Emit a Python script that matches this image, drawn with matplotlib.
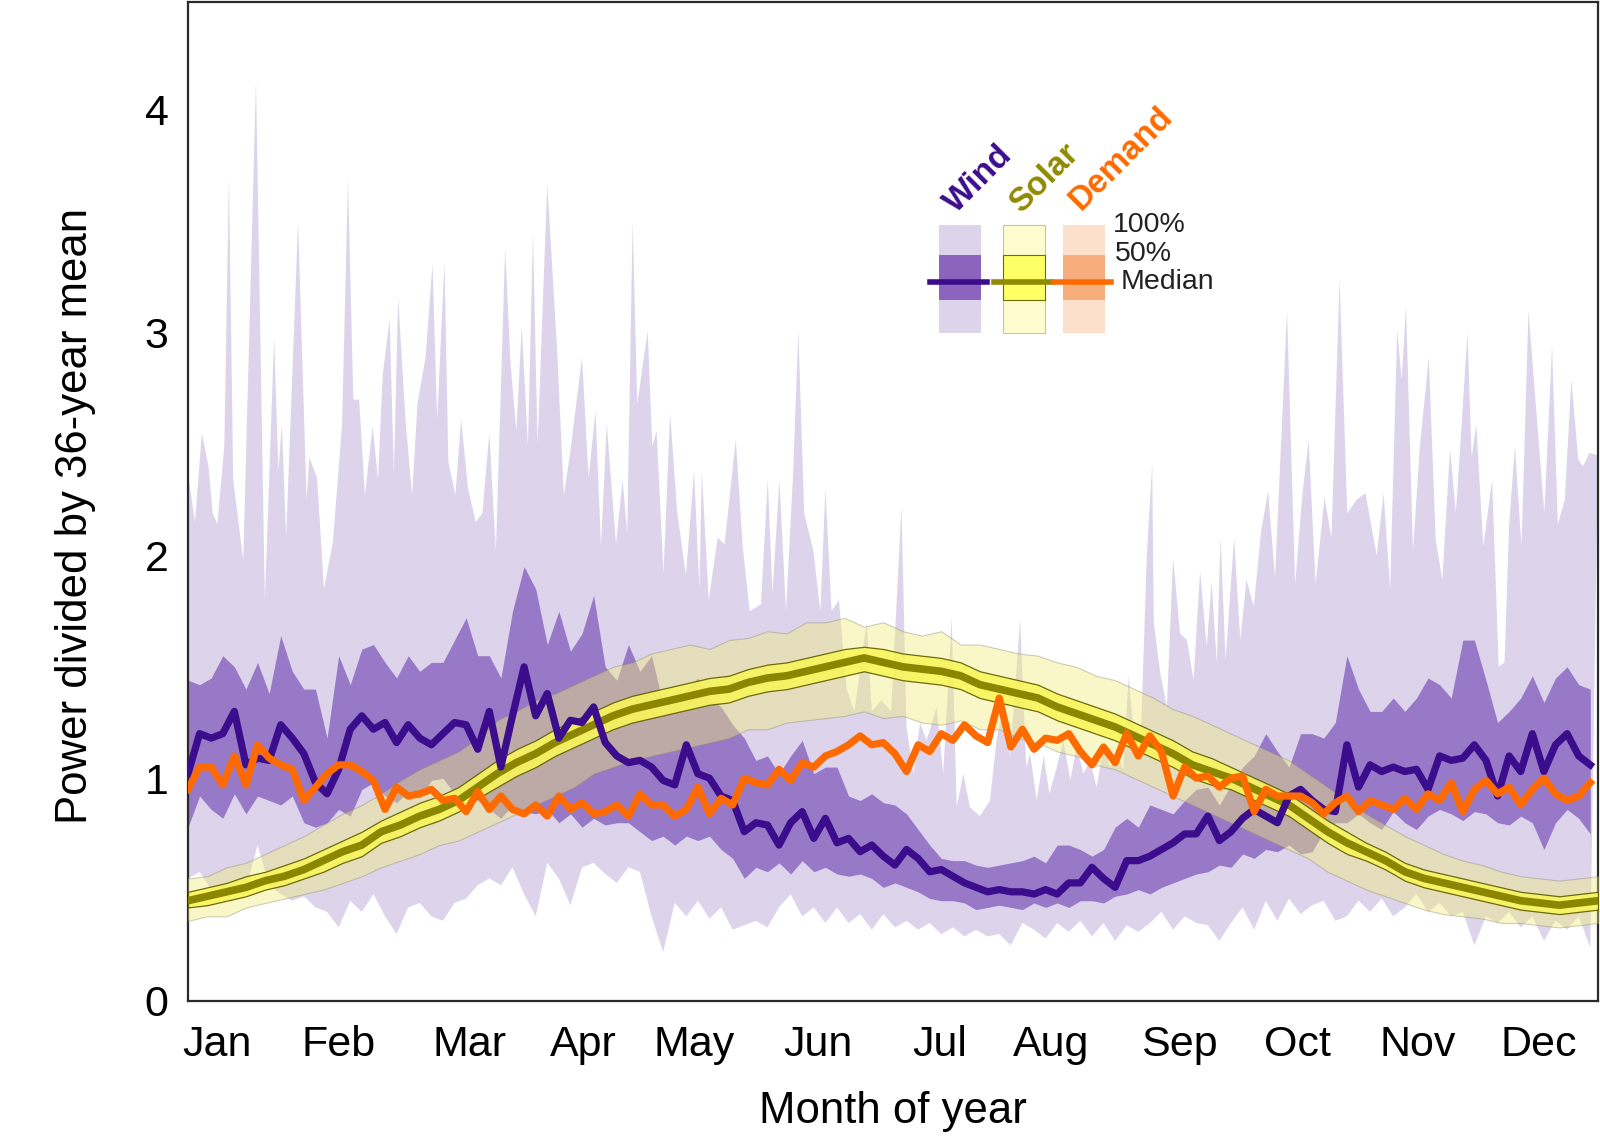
import numpy as np
import matplotlib
matplotlib.use('Agg')
import matplotlib.pyplot as plt
from matplotlib.patches import Rectangle
from matplotlib.lines import Line2D

plt.rcParams['font.family'] = ['Liberation Sans', 'DejaVu Sans']

##Month labels and where they sit (day of year)
month_labels = ['Jan', 'Feb', 'Mar', 'Apr', 'May', 'Jun', 'Jul', 'Aug', 'Sep', 'Oct', 'Nov', 'Dec']
month_ticks = [7.5, 39, 72.8, 102.4, 131, 163, 194.6, 223.4, 256.5, 287.3, 318.4, 349.7]

##Wind and demand are read every 3 days
grid_days = np.arange(0, 364, 3)

wind_median = [1.02, 1.20, 1.18, 1.20, 1.30, 1.06, 1.09, 1.08, 1.24, 1.18, 1.11, 0.98, 0.93, 1.04, 1.22, 1.28,
               1.22, 1.25, 1.16, 1.24, 1.18, 1.15, 1.20, 1.25, 1.24, 1.13,
               1.30, 1.05, 1.28, 1.50, 1.28, 1.38, 1.18, 1.26, 1.25, 1.32, 1.16, 1.10, 1.07, 1.08, 1.05, 0.99,
               0.97, 1.15, 1.02, 1.00, 0.92, 0.90, 0.76,
               0.80, 0.79, 0.70, 0.80, 0.85, 0.73, 0.82, 0.71, 0.73, 0.67, 0.70, 0.65, 0.61, 0.68, 0.64, 0.58,
               0.59, 0.56, 0.53, 0.51, 0.49, 0.50, 0.49, 0.49, 0.48,
               0.50, 0.48, 0.53, 0.53, 0.60, 0.55, 0.51, 0.63, 0.63, 0.65, 0.68, 0.71, 0.75, 0.75, 0.83, 0.72,
               0.76, 0.82, 0.86, 0.83, 0.80, 0.92, 0.95, 0.90,
               0.86, 0.85, 1.15, 0.96, 1.06, 1.03, 1.05, 1.03, 1.04, 0.95, 1.10, 1.08, 1.09, 1.15, 1.08, 0.92,
               1.10, 1.03, 1.20, 1.03, 1.15, 1.20, 1.10, 1.06]

wind_q75 = [1.44, 1.42, 1.45, 1.55, 1.50, 1.40, 1.52, 1.38, 1.64, 1.48, 1.40, 1.40, 1.18, 1.55, 1.42, 1.58,
            1.60, 1.52, 1.45, 1.55, 1.48, 1.52, 1.52, 1.62, 1.72, 1.55,
            1.55, 1.45, 1.75, 1.95, 1.85, 1.60, 1.75, 1.57, 1.65, 1.82, 1.50, 1.44, 1.60, 1.48, 1.55, 1.33,
            1.35, 1.40, 1.45, 1.36, 1.32, 1.24, 1.18,
            1.08, 1.10, 1.02, 1.10, 1.17, 1.02, 1.05, 1.05, 0.92, 0.90, 0.93, 0.89, 0.88, 0.84, 0.77, 0.70,
            0.64, 0.63, 0.63, 0.61, 0.60, 0.61, 0.62, 0.63, 0.65,
            0.62, 0.70, 0.70, 0.68, 0.65, 0.68, 0.78, 0.82, 0.78, 0.88, 0.86, 0.84, 0.90, 0.95, 0.96, 0.88,
            0.97, 1.05, 1.10, 1.20, 1.12, 1.05, 1.20, 1.20,
            1.18, 1.25, 1.55, 1.40, 1.30, 1.30, 1.36, 1.30, 1.36, 1.45, 1.42, 1.36, 1.62, 1.62, 1.44, 1.25,
            1.30, 1.36, 1.46, 1.34, 1.45, 1.50, 1.42, 1.40]

wind_q25 = [0.78, 0.92, 0.86, 0.82, 0.93, 0.84, 0.92, 0.90, 0.88, 0.92, 0.80, 0.78, 0.80, 0.86, 0.83, 0.95,
            0.98, 0.92, 0.89, 0.94, 0.91, 0.99, 1.00, 0.93, 0.93, 0.90,
            0.86, 0.82, 0.88, 0.85, 0.84, 0.86, 0.80, 0.84, 0.78, 0.82, 0.79, 0.80, 0.80, 0.76, 0.72, 0.74,
            0.70, 0.74, 0.72, 0.74, 0.68, 0.64, 0.55,
            0.60, 0.58, 0.62, 0.57, 0.63, 0.58, 0.60, 0.57, 0.56, 0.57, 0.55, 0.51, 0.53, 0.51, 0.49, 0.46,
            0.45, 0.45, 0.44, 0.41, 0.42, 0.43, 0.42, 0.41, 0.44,
            0.42, 0.44, 0.42, 0.45, 0.45, 0.44, 0.47, 0.48, 0.50, 0.48, 0.51, 0.53, 0.55, 0.57, 0.58, 0.61,
            0.60, 0.66, 0.64, 0.68, 0.67, 0.70, 0.66, 0.67,
            0.76, 0.80, 0.80, 0.84, 0.80, 0.77, 0.85, 0.80, 0.77, 0.83, 0.86, 0.84, 0.81, 0.85, 0.84, 0.80,
            0.79, 0.83, 0.80, 0.68, 0.80, 0.86, 0.82, 0.75]

wind_min = [0.55, 0.58, 0.50, 0.48, 0.52, 0.50, 0.70, 0.52, 0.48, 0.45, 0.47, 0.42, 0.40, 0.33, 0.45, 0.40,
            0.48, 0.38, 0.30, 0.42, 0.44, 0.38, 0.36, 0.44, 0.46, 0.52,
            0.55, 0.52, 0.60, 0.48, 0.38, 0.62, 0.55, 0.43, 0.60, 0.62, 0.57, 0.53, 0.60, 0.58, 0.38, 0.22,
            0.44, 0.38, 0.45, 0.37, 0.42, 0.32, 0.34,
            0.36, 0.33, 0.42, 0.48, 0.38, 0.42, 0.35, 0.42, 0.35, 0.39, 0.32, 0.39, 0.33, 0.36, 0.32, 0.35,
            0.30, 0.33, 0.29, 0.32, 0.29, 0.30, 0.25, 0.35, 0.32,
            0.28, 0.35, 0.31, 0.36, 0.29, 0.35, 0.27, 0.34, 0.31, 0.35, 0.40, 0.32, 0.38, 0.35, 0.34, 0.27,
            0.35, 0.42, 0.32, 0.45, 0.36, 0.46, 0.39, 0.43,
            0.45, 0.36, 0.38, 0.45, 0.40, 0.46, 0.38, 0.42, 0.48, 0.40, 0.44, 0.38, 0.40, 0.25, 0.38, 0.35,
            0.40, 0.33, 0.38, 0.27, 0.36, 0.32, 0.38, 0.24]

##The wind maximum is very spiky, so it is kept as its own list of (day, value) readings
wind_max_days = [0, 1.8, 3.6, 5.3, 6.4, 7.6, 9.4, 10.6, 11.7, 14.3, 17.6, 19.9, 22.3, 23.4, 24.3, 25.4,
                 28.5, 30.7, 31.4, 33.4, 35.2, 37.5, 39.9, 41.4, 42.8, 44.3, 45.8, 47.8, 49.2, 50.4, 52.2,
                 53.3, 54.4, 56.3, 58.0, 59.4, 61.5, 63.3, 64.5, 66.4, 67.4, 69.2, 70.7, 72.5, 74.5, 76.2,
                 78.0, 79.7, 82.1, 83.5, 85.0, 86.4, 88.0, 89.3, 90.5, 93.0, 95.5, 97.3, 99.0, 102.0, 103.7,
                 105.5, 106.9, 108.4, 110.8, 112.5, 113.7, 115.1, 116.3, 119.0, 120.2, 121.3, 123.1, 124.8,
                 126.6, 128.9, 131.0, 132.4, 133.0, 134.8, 137.1, 138.9, 141.8, 143.6, 145.4, 148.3, 150.1,
                 151.3, 153.1, 154.8, 156.6, 158.0, 159.5, 161.9, 163.7, 165.0, 166.6, 168.5, 170.5, 172.5,
                 175.7, 177.0, 179.5, 182.0, 184.7, 186.0, 187.8, 189.5, 191.2, 193.8, 195.5, 197.7, 199.0,
                 200.7, 202.4, 205.0, 207.6, 209.3, 211.0, 212.8, 215.4, 217.0, 218.0, 219.7, 221.5, 223.0,
                 224.9, 226.6, 228.4, 230.0, 231.8, 233.5, 235.2, 237.0, 238.7, 240.4, 242.1, 243.5, 244.7,
                 246.5, 248.2, 249.6, 250.0, 251.7, 253.4, 255.0, 256.8, 258.6, 260.3, 262.0, 263.7, 265.0,
                 266.3, 267.3, 268.6, 270.8, 272.4, 274.0, 275.9, 277.8, 279.6, 281.4, 284.5, 286.6, 288.4,
                 290.1, 291.9, 294.2, 296.0, 298.1, 300.1, 302.5, 304.8, 307.7, 309.5, 311.2, 313.0, 314.2,
                 315.3, 317.1, 318.9, 321.2, 323.0, 324.7, 326.7, 328.2, 329.7, 331.2, 332.3, 333.5, 335.3,
                 337.6, 339.3, 340.8, 342.0, 343.5, 345.2, 347.0, 349.3, 351.1, 353.1, 354.6, 356.4, 358.1,
                 359.9, 361.1, 362.8, 365.0]
wind_max_vals = [2.37, 2.15, 2.55, 2.40, 2.19, 2.14, 2.49, 3.70, 2.34, 1.98, 4.13, 1.80, 2.98, 2.38, 2.59, 2.08,
                 3.50, 2.25, 2.44, 2.35, 1.85, 2.06, 2.59, 3.69, 2.70, 2.70, 2.27, 2.58, 2.34, 2.81, 3.06,
                 2.37, 3.16, 2.61, 2.27, 2.68, 2.89, 3.31, 2.61, 3.32, 2.42, 2.27, 2.61, 2.30, 2.15, 2.19,
                 2.55, 2.02, 3.38, 2.86, 2.56, 3.03, 2.49, 3.45, 2.50, 3.67, 2.94, 2.27, 2.47, 2.89, 2.35,
                 2.65, 2.04, 2.59, 2.05, 2.34, 2.10, 3.50, 2.68, 3.01, 2.49, 2.56, 1.92, 2.64,
                 2.20, 1.91, 2.38, 1.85, 2.38, 1.80, 2.08, 2.05, 2.52, 2.04, 1.75, 1.78, 2.34,
                 1.83, 2.34, 1.75, 2.35, 3.01, 2.19, 2.02, 1.75, 2.30, 1.75, 1.80, 1.40, 1.30,
                 1.70, 1.30, 1.35, 1.30, 2.22, 1.23, 1.02, 1.25, 1.17, 1.32, 1.02, 1.72, 0.87,
                 1.02, 0.87, 0.83, 0.90, 1.17, 1.32, 1.10, 1.71, 1.05, 1.11, 0.90, 1.10, 0.93,
                 1.05, 1.17, 0.99, 1.14, 1.02, 1.08, 0.96, 1.14, 1.05, 1.11, 1.04, 1.46, 1.23,
                 1.11, 2.00, 2.41, 1.70, 1.47, 1.32, 1.99, 1.65, 1.62, 1.44, 1.93, 1.59, 1.88,
                 1.52, 2.08, 1.53, 2.08, 1.62, 1.89, 1.77, 2.11, 2.29, 1.90, 3.10, 1.87, 2.26,
                 2.52, 1.87, 2.26, 2.08, 3.24, 2.19, 2.25, 2.28, 2.00, 2.28, 1.85, 3.01, 2.79,
                 3.12, 2.02, 2.49, 2.89, 2.07, 1.89, 2.48, 2.19, 2.59, 3.00, 2.44, 2.59, 2.04,
                 2.34, 1.50, 1.52, 2.14, 2.49, 2.04, 3.10, 2.59, 2.19, 2.94, 2.14, 2.25, 2.79,
                 2.43, 2.40, 2.46, 2.45]

demand_median = [0.95, 1.05, 1.05, 0.97, 1.10, 0.97, 1.15, 1.09, 1.06, 1.04, 0.90, 0.96, 1.02, 1.06, 1.06, 1.03,
                 0.99, 0.86, 0.96, 0.92, 0.93, 0.95, 0.90, 0.91, 0.85, 0.94,
                 0.86, 0.92, 0.86, 0.84, 0.88, 0.83, 0.92, 0.86, 0.89, 0.84, 0.85, 0.88, 0.83, 0.93, 0.88, 0.88,
                 0.83, 0.86, 0.96, 0.84, 0.91, 0.88, 1.00,
                 0.98, 0.97, 1.04, 0.99, 1.07, 1.05, 1.10, 1.12, 1.15, 1.19, 1.15, 1.16, 1.11, 1.03, 1.15, 1.12,
                 1.20, 1.17, 1.24, 1.19, 1.16, 1.36, 1.14, 1.22, 1.13,
                 1.18, 1.17, 1.20, 1.12, 1.06, 1.14, 1.07, 1.20, 1.10, 1.19, 1.12, 0.92, 1.05, 1.00, 1.01, 0.96,
                 1.00, 1.01, 0.85, 0.95, 0.92, 0.92, 0.92, 0.89,
                 0.84, 0.89, 0.92, 0.85, 0.90, 0.88, 0.86, 0.91, 0.86, 0.93, 0.90, 0.98, 0.85, 0.95, 0.99, 0.93,
                 0.96, 0.88, 0.95, 1.00, 0.93, 0.90, 0.92, 0.98]

##Solar is smooth, read every 5 days
solar_days = np.arange(0, 366, 5)
solar_median = [0.45, 0.47, 0.49, 0.51, 0.54, 0.56, 0.59, 0.63, 0.67, 0.70,
                0.76, 0.79, 0.83, 0.86, 0.90, 0.96, 1.02, 1.07, 1.11, 1.16,
                1.20, 1.24, 1.28, 1.31, 1.33, 1.35, 1.37, 1.39, 1.40, 1.43,
                1.45, 1.46, 1.48, 1.50, 1.52, 1.54, 1.52, 1.50, 1.49, 1.48,
                1.46, 1.42, 1.40, 1.38, 1.36, 1.32, 1.29, 1.26, 1.23, 1.19,
                1.15, 1.11, 1.06, 1.03, 1.00, 0.96, 0.92, 0.88, 0.82, 0.76,
                0.71, 0.67, 0.63, 0.58, 0.55, 0.53, 0.51, 0.49, 0.47, 0.45,
                0.44, 0.43, 0.44, 0.45]
solar_q75 = [0.49, 0.51, 0.53, 0.56, 0.58, 0.61, 0.64, 0.68, 0.72, 0.76,
             0.81, 0.85, 0.89, 0.92, 0.96, 1.02, 1.08, 1.13, 1.17, 1.22,
             1.26, 1.30, 1.34, 1.37, 1.39, 1.41, 1.43, 1.45, 1.46, 1.49,
             1.51, 1.52, 1.54, 1.56, 1.58, 1.59, 1.58, 1.56, 1.55, 1.54,
             1.52, 1.48, 1.46, 1.44, 1.42, 1.38, 1.35, 1.32, 1.29, 1.25,
             1.21, 1.17, 1.12, 1.09, 1.05, 1.01, 0.97, 0.93, 0.87, 0.81,
             0.76, 0.71, 0.67, 0.62, 0.59, 0.57, 0.55, 0.53, 0.51, 0.49,
             0.48, 0.47, 0.48, 0.49]
solar_q25 = [0.42, 0.43, 0.45, 0.47, 0.50, 0.52, 0.55, 0.58, 0.62, 0.65,
             0.71, 0.74, 0.78, 0.81, 0.85, 0.91, 0.96, 1.01, 1.05, 1.10,
             1.14, 1.18, 1.22, 1.25, 1.27, 1.29, 1.31, 1.33, 1.34, 1.37,
             1.39, 1.40, 1.42, 1.44, 1.46, 1.48, 1.46, 1.44, 1.43, 1.42,
             1.40, 1.36, 1.34, 1.32, 1.30, 1.26, 1.23, 1.20, 1.17, 1.13,
             1.09, 1.05, 1.00, 0.97, 0.95, 0.91, 0.87, 0.83, 0.77, 0.71,
             0.66, 0.63, 0.59, 0.54, 0.51, 0.49, 0.47, 0.45, 0.43, 0.41,
             0.40, 0.39, 0.40, 0.41]
solar_max = [0.55, 0.56, 0.60, 0.62, 0.66, 0.70, 0.74, 0.79, 0.84, 0.88,
             0.93, 0.99, 1.04, 1.08, 1.12, 1.18, 1.26, 1.30, 1.35, 1.38,
             1.42, 1.46, 1.50, 1.52, 1.56, 1.58, 1.60, 1.58, 1.62, 1.63,
             1.66, 1.65, 1.70, 1.70, 1.72, 1.68, 1.70, 1.66, 1.64, 1.66,
             1.60, 1.60, 1.58, 1.56, 1.55, 1.52, 1.50, 1.46, 1.44, 1.40,
             1.36, 1.31, 1.28, 1.24, 1.20, 1.16, 1.12, 1.08, 1.02, 0.96,
             0.90, 0.84, 0.79, 0.74, 0.70, 0.66, 0.63, 0.61, 0.58, 0.56,
             0.55, 0.54, 0.55, 0.56]
solar_min = [0.36, 0.38, 0.38, 0.42, 0.44, 0.46, 0.48, 0.50, 0.53, 0.56,
             0.60, 0.63, 0.66, 0.70, 0.72, 0.76, 0.80, 0.84, 0.88, 0.92,
             0.96, 1.02, 1.05, 1.08, 1.10, 1.12, 1.14, 1.16, 1.18, 1.22,
             1.22, 1.25, 1.26, 1.27, 1.28, 1.30, 1.27, 1.28, 1.25, 1.24,
             1.26, 1.22, 1.22, 1.18, 1.16, 1.12, 1.10, 1.06, 1.04, 1.00,
             0.96, 0.92, 0.88, 0.84, 0.80, 0.76, 0.72, 0.68, 0.64, 0.58,
             0.54, 0.50, 0.47, 0.44, 0.41, 0.39, 0.38, 0.37, 0.35, 0.35,
             0.34, 0.33, 0.34, 0.35]

##Colours
wind_light = '#ddd4ec'
wind_mid = '#9879c7'
wind_dark = '#3b0c8c'
solar_light = '#f2ee7a'
solar_mid = '#f8f55c'
solar_dark = '#8a8600'
demand_col = '#ff6a00'

fig = plt.figure(figsize=(16, 11.45), dpi=100)
ax = fig.add_axes([0.1175, 0.1258, 0.88125, 0.8725])

##Wind 100% band as one polygon (top and bottom are read at different days)
poly_x = np.concatenate([wind_max_days, grid_days[::-1]])
poly_y = np.concatenate([wind_max_vals, wind_min[::-1]])
ax.fill(poly_x, poly_y, color=wind_light, lw=0, zorder=1)
ax.fill_between(grid_days, wind_q25, wind_q75, color=wind_mid, lw=0, zorder=2)

##Solar bands
ax.fill_between(solar_days, solar_min, solar_max, facecolor=solar_light, alpha=0.42,
                edgecolor='#8c8c70', lw=0.8, zorder=3)
ax.fill_between(solar_days, solar_q25, solar_q75, facecolor=solar_mid, alpha=0.9,
                edgecolor='#5e5c00', lw=0.9, zorder=4)
ax.plot(solar_days, solar_median, color=solar_dark, lw=5.5, zorder=5, solid_joinstyle='round')

ax.plot(grid_days, wind_median, color=wind_dark, lw=5.2, zorder=6, solid_joinstyle='round')
ax.plot(grid_days, demand_median, color=demand_col, lw=5.2, zorder=7, solid_joinstyle='round')

ax.set_xlim(0, 365)
ax.set_ylim(0, 4.485)
ax.set_xticks(month_ticks, month_labels)
ax.set_yticks([0, 1, 2, 3, 4])
ax.tick_params(axis='x', length=0, labelsize=31, pad=17)
ax.tick_params(axis='y', length=0, labelsize=31, pad=14)
for s in ax.spines.values():
    s.set_color('#2a2a2a')
    s.set_linewidth(1.6)

ax.set_ylabel('Power divided by 36-year mean', fontsize=31.5)
ax.yaxis.set_label_coords(-0.0795, 0.486)
ax.yaxis.label.set_va('center')
ax.set_xlabel('Month of year', fontsize=31.5)
ax.xaxis.set_label_coords(0.5, -0.111)
ax.xaxis.label.set_va('center')

##Legend drawn by hand in axes fraction
T = ax.transAxes
box_y0, box_y1 = 0.6687, 0.7768
mid_y0, mid_y1 = 0.7017, 0.7467
line_y = 0.7197
legend_boxes = [(0.5326, wind_light, '#8c64be', wind_dark, None, None),
                (0.5780, '#fffdcf', '#ffff66', '#8f8a00', '#c8c890', '#6e6c00'),
                (0.6206, '#fde0cc', '#f7ae7c', demand_col, None, None)]
box_w = 0.0298
for x0, c_light, c_mid, c_line, e_light, e_mid in legend_boxes:
    ax.add_patch(Rectangle((x0, box_y0), box_w, box_y1 - box_y0, transform=T, facecolor=c_light,
                           edgecolor=e_light if e_light else 'none', lw=0.8, zorder=10))
    ax.add_patch(Rectangle((x0, mid_y0), box_w, mid_y1 - mid_y0, transform=T, facecolor=c_mid,
                           edgecolor=e_mid if e_mid else 'none', lw=0.8, zorder=11))
    ax.add_line(Line2D([x0 - 0.0065, x0 + box_w + 0.0045], [line_y, line_y], transform=T,
                       color=c_line, lw=4.0, zorder=12))

ax.text(0.656, 0.7768, '100%', transform=T, fontsize=20.5, color='#222222', ha='left', va='center', zorder=12)
ax.text(0.6574, 0.7477, '50%', transform=T, fontsize=20.5, color='#222222', ha='left', va='center', zorder=12)
ax.text(0.6617, 0.7197, 'Median', transform=T, fontsize=20.5, color='#222222', ha='left', va='center', zorder=12)

for tx, ty, label, col in [(0.5445, 0.7878, 'Wind', wind_dark),
                           (0.5910, 0.7878, 'Solar', '#8f8a00'),
                           (0.6330, 0.7908, 'Demand', demand_col)]:
    ax.text(tx, ty, label, transform=T, rotation=45, rotation_mode='anchor', ha='left', va='baseline',
            fontsize=24, fontweight='bold', color=col, zorder=12)

fig.savefig('out.png', dpi=100)
